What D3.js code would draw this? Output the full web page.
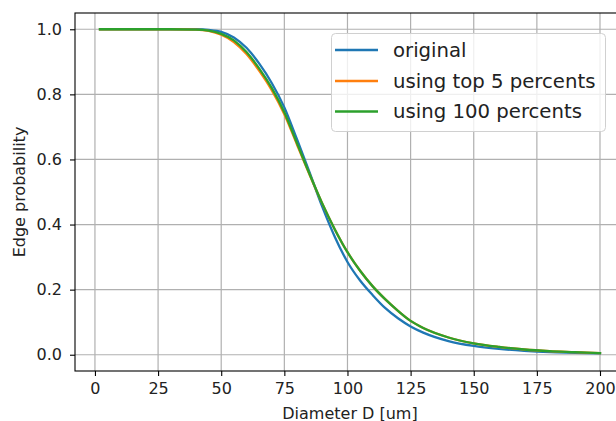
<!DOCTYPE html>
<html>
<head>
<meta charset="utf-8">
<script src="https://cdn.jsdelivr.net/npm/d3@7"></script>
<style>
  html, body { margin: 0; padding: 0; background: #fff; }
  svg { display: block; }
  text { font-family: "DejaVu Sans", sans-serif; fill: #222; }
</style>
</head>
<body>
<div id="chart"></div>
<script>
// ---- data ----
const diameters = [2, 10, 20, 30, 40, 45, 50, 55, 60, 65, 70, 75, 80, 85, 90, 95, 100, 105, 110, 115, 120, 125, 130, 140, 150, 160, 170, 180, 190, 200];
const original =  [1.0, 1.0, 1.0, 1.0, 1.0, 0.998, 0.992, 0.975, 0.943, 0.895, 0.835, 0.760, 0.662, 0.560, 0.455, 0.362, 0.285, 0.228, 0.183, 0.143, 0.112, 0.087, 0.068, 0.042, 0.027, 0.018, 0.012, 0.008, 0.006, 0.004];
const top5 =      [1.0, 1.0, 1.0, 1.0, 0.999, 0.995, 0.983, 0.961, 0.924, 0.873, 0.813, 0.739, 0.646, 0.553, 0.465, 0.385, 0.315, 0.258, 0.210, 0.170, 0.135, 0.104, 0.082, 0.053, 0.035, 0.024, 0.016, 0.011, 0.008, 0.005];
const all100 =    [1.0, 1.0, 1.0, 1.0, 0.999, 0.996, 0.986, 0.966, 0.930, 0.880, 0.820, 0.745, 0.650, 0.555, 0.465, 0.385, 0.315, 0.258, 0.210, 0.170, 0.135, 0.104, 0.082, 0.053, 0.035, 0.024, 0.016, 0.011, 0.008, 0.005];
const seriesNames = ["original", "using top 5 percents", "using 100 percents"];
const seriesColors = ["#1f77b4", "#ff7f0e", "#2ca02c"];
const xTicks = [0, 25, 50, 75, 100, 125, 150, 175, 200];
const yTicks = [0.0, 0.2, 0.4, 0.6, 0.8, 1.0];
const xLabel = "Diameter D [um]";
const yLabel = "Edge probability";

// ---- layout ----
const W = 616, H = 421;
const L = 75, R = 625, T = 13, B = 371;

const svg = d3.select("#chart").append("svg").attr("width", W).attr("height", H);

const x = d3.scaleLinear().domain([-7.9, 209.9]).range([L, R]);
const y = d3.scaleLinear().domain([-0.05, 1.05]).range([B, T]);

// grid
const grid = svg.append("g");
grid.selectAll("line.gx").data(xTicks).enter().append("line")
  .attr("x1", d => x(d)).attr("x2", d => x(d)).attr("y1", T).attr("y2", B)
  .attr("stroke", "#b0b0b0").attr("stroke-width", 1.2);
grid.selectAll("line.gy").data(yTicks).enter().append("line")
  .attr("x1", L).attr("x2", R).attr("y1", d => y(d)).attr("y2", d => y(d))
  .attr("stroke", "#b0b0b0").attr("stroke-width", 1.2);

// axes
const xAxis = d3.axisBottom(x).tickValues(xTicks).tickFormat(d3.format("d")).tickSize(5).tickPadding(7);
const yAxis = d3.axisLeft(y).tickValues(yTicks).tickFormat(d3.format(".1f")).tickSize(5).tickPadding(8);

const gx = svg.append("g").attr("transform", `translate(0,${B})`).call(xAxis);
const gy = svg.append("g").attr("transform", `translate(${L},0)`).call(yAxis);
[gx, gy].forEach(g => {
  g.select(".domain").remove();
  g.selectAll(".tick line").attr("stroke", "#000").attr("stroke-width", 1.1);
  g.selectAll(".tick text").attr("font-family", "DejaVu Sans").attr("font-size", 16).attr("fill", "#222");
});

// lines
svg.append("clipPath").attr("id", "clip").append("rect")
  .attr("x", L).attr("y", T).attr("width", R - L).attr("height", B - T);

const allSeries = [original, top5, all100];
const line = d3.line().x(d => x(d[0])).y(d => y(d[1])).curve(d3.curveMonotoneX);
const lines = svg.append("g").attr("clip-path", "url(#clip)");
allSeries.forEach((vals, i) => {
  const pts = diameters.map((dv, j) => [dv, vals[j]]);
  lines.append("path").datum(pts)
    .attr("d", line)
    .attr("fill", "none")
    .attr("stroke", seriesColors[i])
    .attr("stroke-width", 2.3)
    .attr("stroke-linecap", "square");
});

// spines
svg.append("rect").attr("x", L).attr("y", T).attr("width", R - L).attr("height", B - T)
  .attr("fill", "none").attr("stroke", "#000").attr("stroke-width", 1.1);

// labels
svg.append("text").attr("x", (L + R) / 2).attr("y", 418.5).attr("text-anchor", "middle")
  .attr("font-size", 16).text(xLabel);
svg.append("text").attr("transform", `translate(25,${(T + B) / 2}) rotate(-90)`)
  .attr("text-anchor", "middle").attr("font-size", 16).text(yLabel);

// legend
const lg = svg.append("g");
lg.append("rect").attr("x", 331.5).attr("y", 33.5).attr("width", 274).attr("height", 98).attr("rx", 4)
  .attr("fill", "#fff").attr("fill-opacity", 0.8).attr("stroke", "#d0d0d0").attr("stroke-width", 1);
const legendYs = [50, 81, 111.5];
seriesNames.forEach((name, i) => {
  lg.append("line").attr("x1", 335).attr("x2", 378).attr("y1", legendYs[i]).attr("y2", legendYs[i])
    .attr("stroke", seriesColors[i]).attr("stroke-width", 2.3);
  lg.append("text").attr("x", 393).attr("y", legendYs[i] + 6.7).attr("font-size", 19.7).text(name);
});
</script>
</body>
</html>
